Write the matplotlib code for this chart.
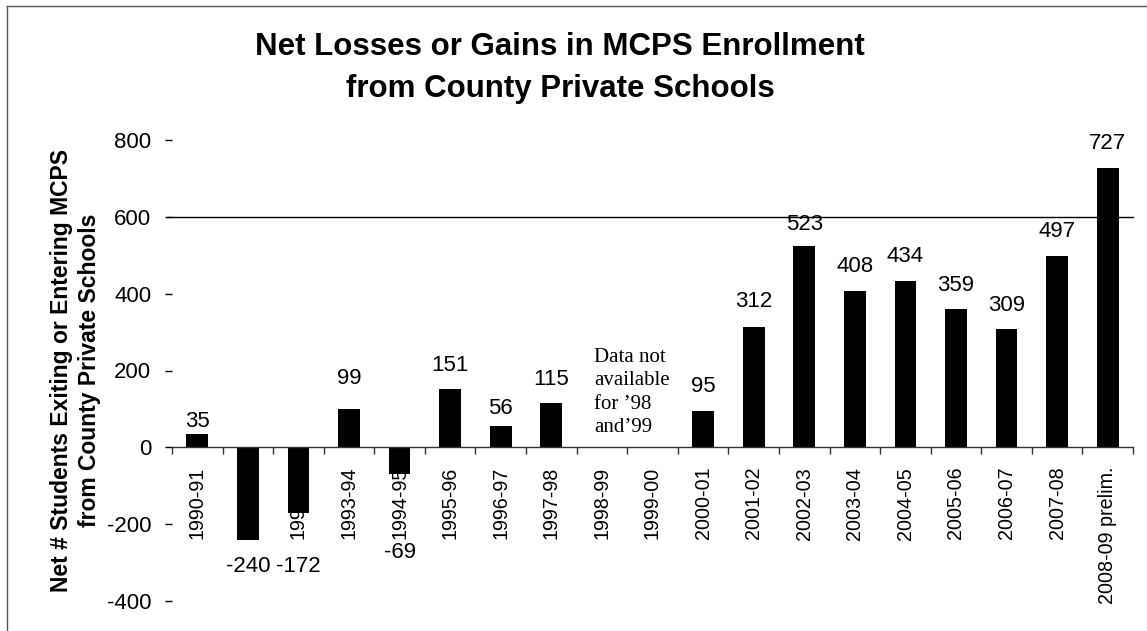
import matplotlib
matplotlib.use("Agg")
import matplotlib.pyplot as plt
from matplotlib.lines import Line2D
from matplotlib.transforms import offset_copy
import numpy as np

categories = ["1990-91", "1991-92", "1992-93", "1993-94", "1994-95", "1995-96",
              "1996-97", "1997-98", "1998-99", "1999-00", "2000-01", "2001-02",
              "2002-03", "2003-04", "2004-05", "2005-06", "2006-07", "2007-08",
              "2008-09 prelim."]
values = [35, -240, -172, 99, -69, 151, 56, 115, None, None, 95, 312,
          523, 408, 434, 359, 309, 497, 727]
yticks = [-400, -200, 0, 200, 400, 600, 800]

title = "Net Losses or Gains in MCPS Enrollment\nfrom County Private Schools"
ylabel = "Net # Students Exiting or Entering MCPS\nfrom County Private Schools"
note = "Data not\navailable\nfor \u201998\nand\u201999"

# label offsets from bar end (pixels), styling only
label_offsets = [12, 27, 53, 31, 79, 24, 17, 24, 0, 0, 24, 26,
                 22, 24, 24, 24, 23, 25, 25]

plt.rcParams['font.family'] = ['Liberation Sans', 'DejaVu Sans']

fig = plt.figure(figsize=(11.47, 6.31), dpi=100)
ax = fig.add_axes([172/1147, 1-601/631, (1133-172)/1147, (601-140)/631])

x = np.arange(len(categories))
hv = [v if v is not None else 0 for v in values]
mask = [v is not None for v in values]
xs = x[mask]
hs = np.array(hv)[mask]
ax.bar(xs, hs, width=0.43, color='black', zorder=1)

ax.set_xlim(-0.5, len(categories) - 0.5)
ax.set_ylim(-400, 800)
ax.set_axisbelow(True)

for s in ['top', 'right', 'left']:
    ax.spines[s].set_visible(False)
ax.spines['bottom'].set_position(('data', 0))
ax.spines['bottom'].set_linewidth(1.0)
ax.spines['bottom'].set_color('#333333')

ax.set_xticks(x)
ax.set_xticklabels(categories, rotation=90, fontsize=14.2, va='top')
ax.set_xticks(np.arange(len(categories) + 1) - 0.5, minor=True)
ax.tick_params(axis='x', which='major', length=0, pad=14)
ax.tick_params(axis='x', which='minor', length=5, width=1, direction='out', color='#333333')

ax.set_yticks(yticks)
ax.set_yticklabels([str(t) for t in yticks], fontsize=16)
ax.tick_params(axis='y', length=5, width=1, direction='out', pad=10)

ax.axhline(600, xmin=-0.004, xmax=1.0, color='black', lw=1.0, clip_on=False, zorder=2)

for xi, v, off in zip(x, values, label_offsets):
    if v is None:
        continue
    if v >= 0:
        tr = offset_copy(ax.transData, fig=fig, x=0, y=off * 0.72, units='points')
    else:
        tr = offset_copy(ax.transData, fig=fig, x=0, y=-off * 0.72, units='points')
    ax.text(xi, v, str(v), transform=tr, ha='center', va='center', fontsize=16, zorder=3)

ax.text(7.84, 258, note, fontsize=15, family=['Liberation Serif', 'DejaVu Serif'],
        ha='left', va='top', linespacing=1.3)

ax.set_ylabel(ylabel, fontsize=16.5, fontweight='bold', linespacing=1.3, labelpad=4)

fig.text(560/1147, 1-68/631, title, ha='center', va='center', fontsize=22.5,
         fontweight='bold', linespacing=1.5)

fig.add_artist(Line2D([7/1147, 7/1147], [0, 1-6/631], transform=fig.transFigure,
                      color='#555555', lw=1.0))
fig.add_artist(Line2D([7/1147, 1], [1-6/631, 1-6/631], transform=fig.transFigure,
                      color='#555555', lw=1.0))

fig.savefig("out.png", dpi=100)
